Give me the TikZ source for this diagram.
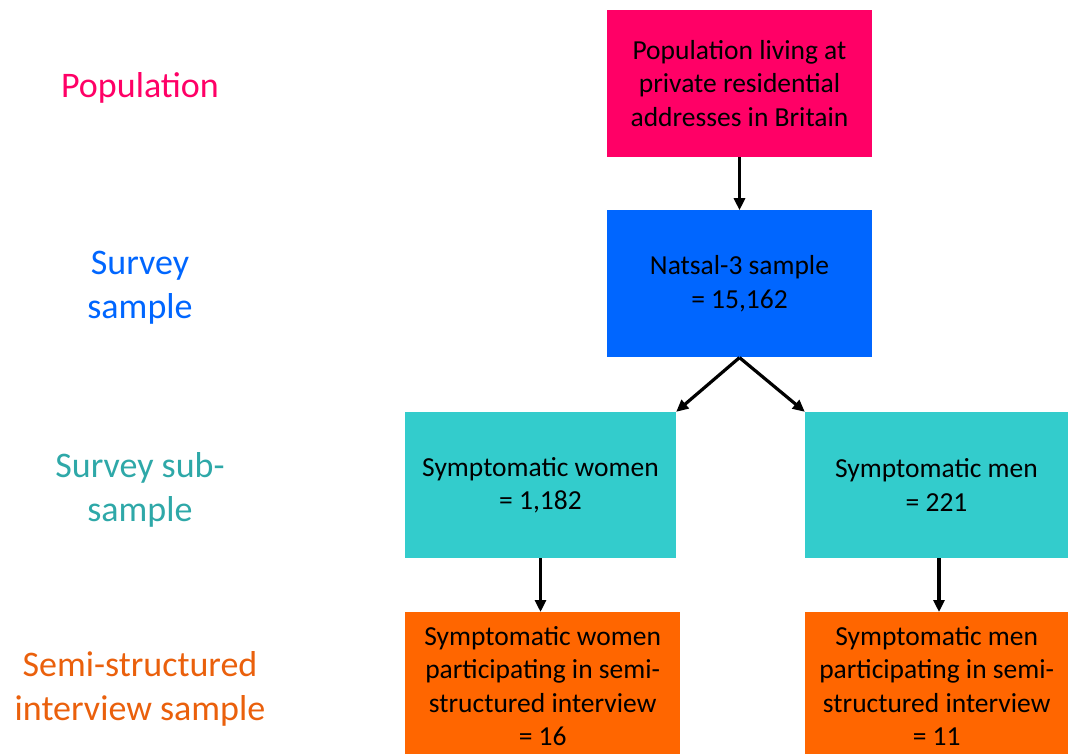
\documentclass[tikz,border=0pt]{standalone}
\usepackage{fontspec}
\setmainfont{Carlito}
\usetikzlibrary{arrows.meta,positioning}
\definecolor{PopPink}{HTML}{FF0066}
\definecolor{SurveyBlue}{HTML}{0066FF}
\definecolor{SubTeal}{HTML}{33CCCC}
\definecolor{SubTealText}{HTML}{2EA8A8}
\definecolor{SemiOrange}{HTML}{FF6600}
\definecolor{SemiOrangeText}{HTML}{EA600C}

\begin{document}
\begin{tikzpicture}[x=1pt,y=-1pt,>={Triangle[length=12pt,width=11pt]},
 level/.style={fill=#1,minimum width=265pt,minimum height=147pt,align=center,
              inner sep=0pt,font=\fontsize{27.5}{33.5}\selectfont},
 tier/.style={text=#1,align=center,font=\fontsize{36}{44}\selectfont},
 link/.style={->,line width=3.2pt}]
\useasboundingbox (0,0) rectangle (1068,754);
% left-hand tier labels
\node[tier=PopPink] (tpop) at (140,88) {Population};
\node[tier=SurveyBlue] (tsurvey) at (140,288) {Survey\\sample};
\node[tier=SubTealText] (tsub) at (140,490) {Survey sub-\\sample};
\node[tier=SemiOrangeText] (tsemi) at (140,689) {Semi-structured\\interview sample};
% flow boxes
\node[level=PopPink] (pop) at (739.5,83.5) {Population living at\\private residential\\addresses in Britain};
\node[level=SurveyBlue,below=53pt of pop] (natsal) {Natsal-3 sample\\= 15,162};
\node[level=SubTeal,minimum width=271pt,minimum height=146pt] (women) at (540.5,485)
  {Symptomatic women\\= 1,182};
\node[level=SubTeal,minimum width=263pt,minimum height=146pt] (men) at (936.5,485)
  {Symptomatic men\\= 221};
\node[level=SemiOrange,anchor=north west,minimum width=275pt,minimum height=148pt] (semiw) at (405,612)
  {Symptomatic women\\participating in semi-\\structured interview\\= 16};
\node[level=SemiOrange,anchor=north west,minimum width=263pt,minimum height=148pt] (semim) at (805,612)
  {Symptomatic men\\participating in semi-\\structured interview\\= 11};
\draw[link] (pop) -- (natsal);
\draw[link] (natsal.south) -- (women.north east);
\draw[link] (natsal.south) -- (men.north west);
\draw[link] (women.south) -- (women.south |- semiw.north);
\draw[link] ([xshift=2.5pt]men.south) -- ([xshift=2.5pt]men.south |- semim.north);
\end{tikzpicture}
\end{document}
